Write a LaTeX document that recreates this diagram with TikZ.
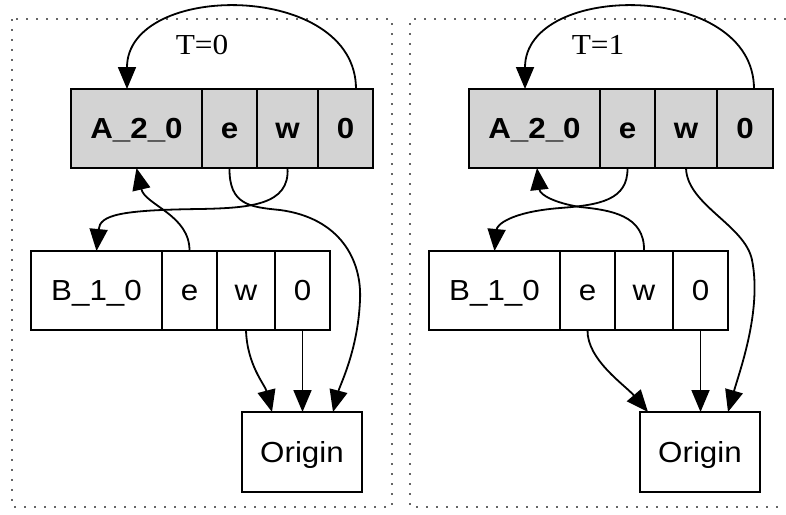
\documentclass[tikz,border=0pt]{standalone}
\usepackage{fontspec}
\setmainfont{Liberation Serif}[FakeStretch=1.08]
\newfontfamily\recfont{Liberation Sans}[FakeStretch=1.08]
\usetikzlibrary{arrows.meta}
\definecolor{cellgray}{HTML}{D3D3D3}
\tikzset{
  cell/.style={draw, line width=1.8pt, inner sep=0pt, outer sep=0pt, minimum height=79pt, text height=21pt, text depth=2pt, anchor=west, font=\recfont\fontsize{29}{34}\selectfont},
  acell/.style={cell, fill=cellgray, font=\recfont\bfseries\fontsize{29}{34}\selectfont},
  origbox/.style={draw, line width=1.8pt, inner sep=0pt, outer sep=0pt, minimum width=120pt, minimum height=80pt, text height=21pt, text depth=1pt, font=\recfont\fontsize{29}{34}\selectfont},
  edge/.style={line width=1.8pt, -{Triangle[length=22pt,width=18pt]}},
  cluster/.style={draw=black!60, line width=2.2pt, dash pattern=on 2.2pt off 7.8pt},
  tlabel/.style={font=\fontsize{29}{34}\selectfont, inner sep=0pt}
}
\begin{document}
\begin{tikzpicture}[x=1pt,y=-1pt]
\useasboundingbox (0,0) rectangle (786,514);
% clusters
\draw[cluster] (12,19) rectangle (392,507);
\draw[cluster] (786,19) -- (410,19) -- (410,507) -- (786,507);
\node[tlabel] (tl0) at (202,45) {T=0};
\node[tlabel] (tl1) at (598,45) {T=1};
% left records
\node[acell, minimum width=131pt] (lAn) at (71,128.5) {A\_2\_0};
\node[acell, minimum width=55pt] (lAe) at (202,128.5) {e};
\node[acell, minimum width=61pt] (lAw) at (257,128.5) {w};
\node[acell, minimum width=55pt] (lAz) at (318,128.5) {0};
\node[cell, minimum width=131pt] (lBn) at (31,290.5) {B\_1\_0};
\node[cell, minimum width=55pt] (lBe) at (162,290.5) {e};
\node[cell, minimum width=58pt] (lBw) at (217,290.5) {w};
\node[cell, minimum width=55pt] (lBz) at (275,290.5) {0};
\node[origbox] (lO) at (302,452) {Origin};
% right records
\node[acell, minimum width=131pt] (rAn) at (469,128.5) {A\_2\_0};
\node[acell, minimum width=55pt] (rAe) at (600,128.5) {e};
\node[acell, minimum width=62pt] (rAw) at (655,128.5) {w};
\node[acell, minimum width=56pt] (rAz) at (717,128.5) {0};
\node[cell, minimum width=131pt] (rBn) at (429,290.5) {B\_1\_0};
\node[cell, minimum width=55pt] (rBe) at (560,290.5) {e};
\node[cell, minimum width=58pt] (rBw) at (615,290.5) {w};
\node[cell, minimum width=55pt] (rBz) at (673,290.5) {0};
\node[origbox] (rO) at (700,452) {Origin};
% left edges
\draw[edge] ([xshift=10.5pt]lAz.north) .. controls (356,-19) and (127,-19) .. ([xshift=-9.5pt]lAn.north);
\draw[edge] (lBe.north) .. controls (190,215) and (145,205) .. (lAn.south);
\draw[edge] (lAw.south) .. controls (290,205) and (250,208) .. (200,209) .. controls (120,210) and (100,215) .. (lBn.north);
\draw[edge] (lAe.south) .. controls (229,205) and (250,207) .. (280,210) .. controls (340,218) and (362,260) .. (360,300) .. controls (358,350) and (340,385) .. ([xshift=31pt]lO.north);
\draw[edge] (lBw.south) .. controls (247,365) and (265,385) .. ([xshift=-30pt]lO.north);
\draw[edge] (lBz.south) -- (lBz.south |- lO.north);
% right edges
\draw[edge] ([xshift=9pt]rAz.north) .. controls (754,-19) and (525,-19) .. ([xshift=-9.5pt]rAn.north);
\draw[edge] (rAe.south) .. controls (628,200) and (600,205) .. (560,208) .. controls (510,212) and (497,225) .. (rBn.north);
\draw[edge] (rBw.north) .. controls (645,215) and (610,210) .. (580,207) .. controls (555,203) and (540,195) .. ([xshift=2.5pt]rAn.south);
\draw[edge] (rAw.south) .. controls (687,205) and (745,225) .. (752,260) .. controls (762,310) and (740,370) .. ([xshift=28pt]rO.north);
\draw[edge] (rBe.south) .. controls (587,360) and (625,385) .. ([xshift=-52pt]rO.north);
\draw[edge] (rBz.south) -- (rBz.south |- rO.north);
\end{tikzpicture}
\end{document}
